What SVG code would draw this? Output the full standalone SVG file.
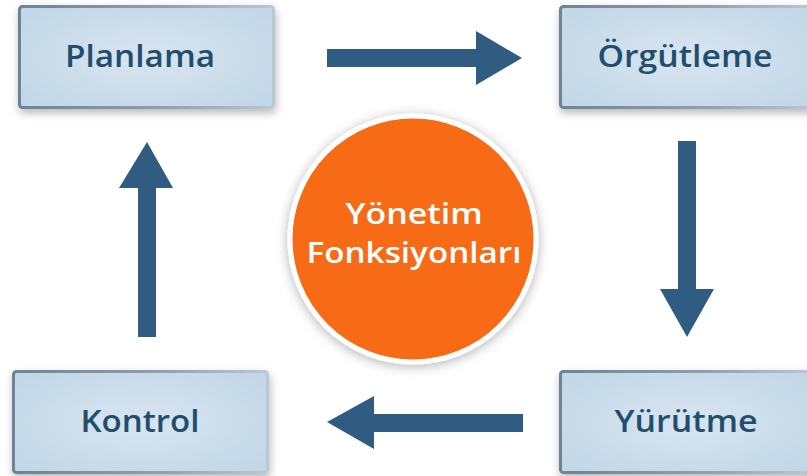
<svg xmlns="http://www.w3.org/2000/svg" width="807" height="476" viewBox="0 0 807 476">
  <defs>
    <radialGradient id="boxFill" cx="50%" cy="50%" r="65%">
      <stop offset="0" stop-color="#D8E5EF"/>
      <stop offset="1" stop-color="#C2D7E7"/>
    </radialGradient>
    <linearGradient id="boxStroke" x1="0" y1="0" x2="1" y2="0">
      <stop offset="0" stop-color="#6C8494"/>
      <stop offset="0.6" stop-color="#8EA3B2"/>
      <stop offset="1" stop-color="#B9C9D5"/>
    </linearGradient>
    <filter id="boxShadow" x="-10%" y="-20%" width="125%" height="150%">
      <feDropShadow dx="1" dy="4" stdDeviation="4" flood-color="#000" flood-opacity="0.28"/>
    </filter>
    <filter id="circleShadow" x="-20%" y="-20%" width="140%" height="140%">
      <feDropShadow dx="0" dy="2" stdDeviation="6" flood-color="#000" flood-opacity="0.3"/>
    </filter>
  </defs>
  <style>
    .box { fill: url(#boxFill); stroke: url(#boxStroke); stroke-width: 3; filter: url(#boxShadow); }
    .label { font-family: "Open Sans", "Liberation Sans", sans-serif; font-weight: 600; font-size: 31px; fill: #1F4E6E; text-anchor: middle; }
    .center-label { font-family: "Open Sans", "Liberation Sans", sans-serif; font-weight: 600; font-size: 29px; fill: #FFFFFF; text-anchor: middle; }
    .arrow { fill: #2F5C80; }
  </style>
  <rect width="807" height="476" fill="#FFFFFF"/>

  <g id="connectors">
    <!-- Planlama to Örgütleme -->
    <polygon class="arrow" points="327,49 476,49 476,31 522,58 476,85 476,67 327,67"/>
    <!-- Örgütleme to Yürütme -->
    <polygon class="arrow" points="678,141 696,141 696,289 714,289 687,337 660,289 678,289"/>
    <!-- Yürütme to Kontrol -->
    <polygon class="arrow" points="523,414 523,432 374,432 374,449 327,422 374,396 374,414"/>
    <!-- Kontrol to Planlama -->
    <polygon class="arrow" points="138,337 156,337 156,188 173,188 147,142 119,188 138,188"/>
  </g>

  <g id="node-planlama">
    <rect class="box" x="19.5" y="6.5" width="254" height="101" rx="3"/>
    <text class="label" x="140" y="67" textLength="150" lengthAdjust="spacingAndGlyphs">Planlama</text>
  </g>

  <g id="node-orgutleme">
    <rect class="box" x="560.5" y="6.5" width="254" height="101" rx="3"/>
    <text class="label" x="685" y="67" textLength="175" lengthAdjust="spacingAndGlyphs">Örgütleme</text>
  </g>

  <g id="node-yurutme">
    <rect class="box" x="560.5" y="371.5" width="254" height="101" rx="3"/>
    <text class="label" x="686" y="432" textLength="143" lengthAdjust="spacingAndGlyphs">Yürütme</text>
  </g>

  <g id="node-kontrol">
    <rect class="box" x="13.5" y="371.5" width="254" height="101" rx="3"/>
    <text class="label" x="140" y="432" textLength="119" lengthAdjust="spacingAndGlyphs">Kontrol</text>
  </g>

  <g id="node-yonetim">
    <circle cx="413" cy="239" r="123" fill="#F76A12" stroke="#FFFFFF" stroke-width="5" filter="url(#circleShadow)"/>
    <text class="center-label" x="414" y="224" textLength="137" lengthAdjust="spacingAndGlyphs">Yönetim</text>
    <text class="center-label" x="414" y="263" textLength="215" lengthAdjust="spacingAndGlyphs">Fonksiyonları</text>
  </g>
</svg>
